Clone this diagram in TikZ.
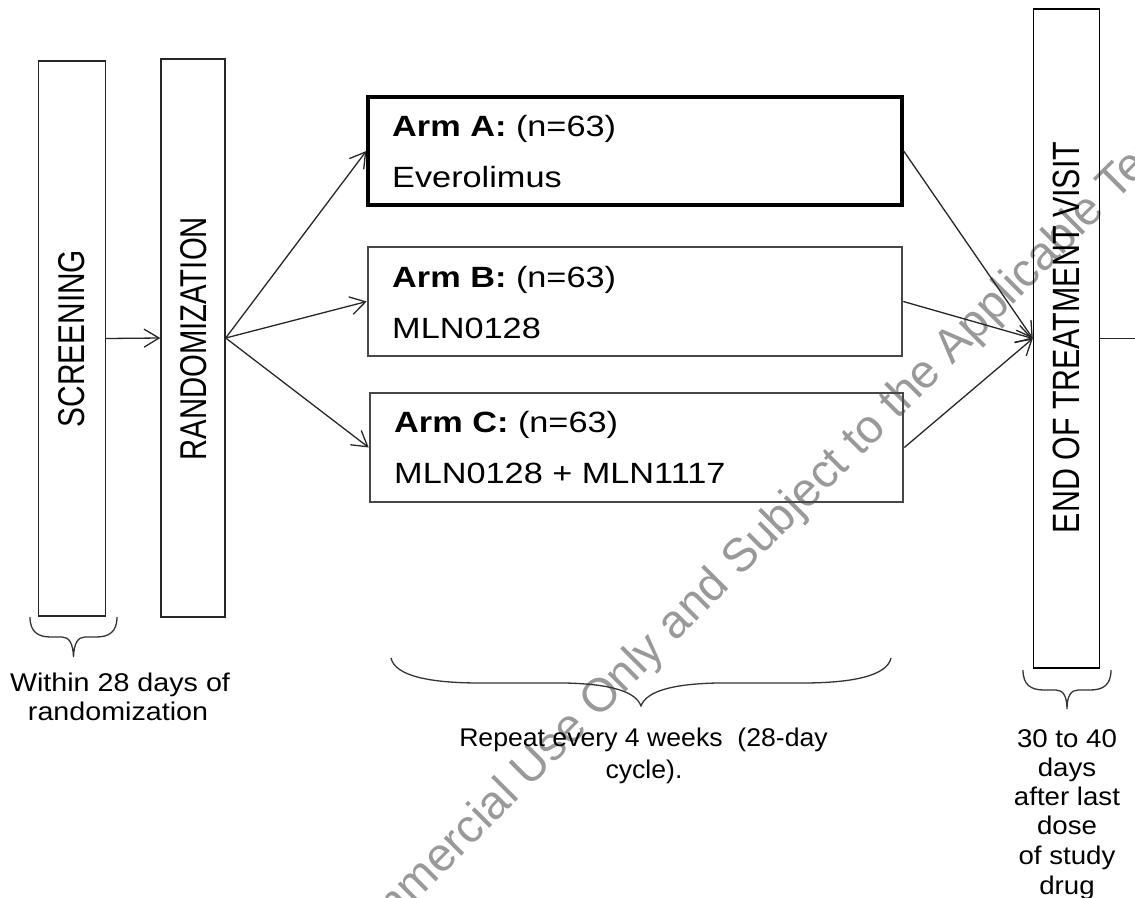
\documentclass[tikz,border=0pt]{standalone}
\usepackage{fontspec}
\usepackage{graphicx}
\setmainfont{Liberation Sans}
\newfontfamily\armfont{Liberation Sans}[FakeStretch=1.17]
\usetikzlibrary{arrows.meta}
\begin{document}
\begin{tikzpicture}[x=1pt,y=-1pt,
  stagebox/.style={draw=black!85, line width=1.4pt, inner sep=0pt},
  armboxA/.style={draw=black, line width=3.4pt, inner sep=0pt},
  armbox/.style={draw=black!72, line width=2.6pt, inner sep=0pt},
  vlabel/.style={rotate=90, inner sep=0pt, anchor=center},
  armtxt/.style={anchor=base west, inner sep=0pt, font=\armfont\fontsize{29.3}{34}\selectfont},
  notetxt/.style={anchor=base, inner sep=0pt, font=\fontsize{25.6}{29}\selectfont},
  conn/.style={draw=black!85, line width=1.3pt, -{Straight Barb[length=15pt,width=18pt,line width=1.3pt]}},
  plainline/.style={draw=black!85, line width=1.3pt},
  bracepath/.style={draw=black!80, line width=1.3pt},
  wmark/.style={rotate=45, anchor=base west, inner sep=0pt, text=black!40, font=\fontsize{47}{50}\selectfont}
]
\useasboundingbox (0,0) rectangle (1135,897);

% watermark
\begin{scope}
  \clip (0,0) rectangle (1135,897);
  \node[wmark] (wm) at (212,1106) {For Non-Commercial Use Only and Subject to the Applicable Terms of Use};
\end{scope}

% stage boxes
\node[stagebox, minimum width=67pt, minimum height=555pt] (scr) at (72,338.5) {};
\node[vlabel] (scrl) at (71.7,338.5) {\fontsize{37.3}{40}\selectfont\scalebox{0.8}[1]{SCREENING}};

\node[stagebox, minimum width=64pt, minimum height=558pt] (rnd) at (193,338) {};
\node[vlabel] (rndl) at (193.3,338.8) {\fontsize{37.3}{40}\selectfont\scalebox{0.785}[1]{RANDOMIZATION}};

\node[stagebox, draw=black, minimum width=66pt, minimum height=659pt] (eot) at (1066.5,338.5) {};
\node[vlabel] (eotl) at (1066.5,337.5) {\fontsize{38}{40}\selectfont\scalebox{0.8}[1]{END OF TREATMENT VISIT}};

% arm boxes
\node[armboxA, minimum width=534pt, minimum height=108pt] (armA) at (635,151) {};
\node[armbox, minimum width=534pt, minimum height=109pt] (armB) at (635,301.5) {};
\node[armbox, minimum width=533pt, minimum height=109pt] (armC) at (636.5,447.5) {};

\node[armtxt] (armA1) at (392,136.5) {\textbf{Arm A:} (n=63)};
\node[armtxt] (armA2) at (392,187) {Everolimus};
\node[armtxt] (armB1) at (392,287) {\textbf{Arm B:} (n=63)};
\node[armtxt] (armB2) at (392,338) {MLN0128};
\node[armtxt] (armC1) at (394,432) {\textbf{Arm C:} (n=63)};
\node[armtxt] (armC2) at (394,483) {MLN0128 + MLN1117};

% connectors
\draw[conn] (scr.east) -- (rnd.west);
\draw[conn] (rnd.east) -- (armA.west);
\draw[conn] (rnd.east) -- (armB.west);
\draw[conn] (rnd.east) -- (armC.west);
\draw[conn] (armA.east) -- (eot.west);
\draw[conn] (armB.east) -- (eot.west);
\draw[conn] (armC.east) -- (eot.west);
\coordinate (rightedge) at (1135,338.5);
\draw[plainline] (eot.east) -- (rightedge);

% braces
\draw[bracepath] (30,617) .. controls (30,632) and (38,637) .. (51,637) -- (62,637)
  .. controls (69,637) and (73,643) .. (73.5,657)
  .. controls (74,643) and (78,637) .. (85,637) -- (96,637)
  .. controls (109,637) and (117,632) .. (117,617);

\draw[bracepath] (391,658) .. controls (395,676) and (430,683) .. (480,683) -- (565,683)
  .. controls (612,684) and (636,692) .. (641,706)
  .. controls (646,692) and (670,684) .. (717,683) -- (802,683)
  .. controls (852,683) and (887,676) .. (891,658);

\draw[bracepath] (1023,670) .. controls (1023,685) and (1031,690) .. (1044,690) -- (1056,690)
  .. controls (1063,690) and (1067,696) .. (1067,709)
  .. controls (1067,696) and (1071,690) .. (1078,690) -- (1090,690)
  .. controls (1103,690) and (1111,685) .. (1111,670);

% notes
\node[notetxt] (w1) at (120,691.7) {\scalebox{1.12}[1]{Within 28 days of}};
\node[notetxt] (w2) at (118,720) {\scalebox{1.12}[1]{randomization}};

\node[notetxt] (r1) at (643.5,746.7) {\scalebox{1.04}[1]{Repeat every 4 weeks\ \ (28-day}};
\node[notetxt] (r2) at (644,778) {\scalebox{1.04}[1]{cycle).}};

\node[notetxt] (d1) at (1067,747) {\scalebox{1.08}[1]{30 to 40}};
\node[notetxt] (d2) at (1067,776) {\scalebox{1.08}[1]{days}};
\node[notetxt] (d3) at (1067,805) {\scalebox{1.08}[1]{after last}};
\node[notetxt] (d4) at (1067,834) {\scalebox{1.08}[1]{dose}};
\node[notetxt] (d5) at (1067,864) {\scalebox{1.08}[1]{of study}};
\node[notetxt] (d6) at (1067,894) {\scalebox{1.08}[1]{drug}};
\end{tikzpicture}
\end{document}
